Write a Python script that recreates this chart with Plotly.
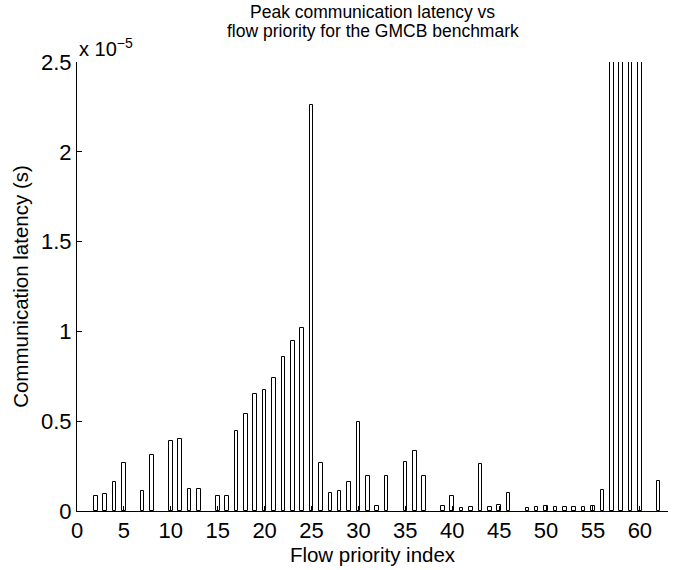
import plotly.graph_objects as go

# Flow priority indices and peak latency values (units of 1e-5 s; 0 = no bar)
priority_index = list(range(1, 63))
latency_e5 = [
    0.0, 0.085, 0.096, 0.16, 0.266, 0.0, 0.111, 0.31, 0.0, 0.39,      # 1-10
    0.40, 0.121, 0.124, 0.0, 0.085, 0.085, 0.444, 0.538, 0.651, 0.672, # 11-20
    0.742, 0.857, 0.948, 1.019, 2.26, 0.266, 0.098, 0.111, 0.161, 0.497, # 21-30
    0.197, 0.026, 0.197, 0.0, 0.273, 0.334, 0.197, 0.0, 0.026, 0.085,  # 31-40
    0.015, 0.02, 0.26, 0.02, 0.032, 0.098, 0.0, 0.015, 0.02, 0.03,     # 41-50
    0.02, 0.022, 0.02, 0.022, 0.03, 0.115, 4.0, 4.0, 4.0, 4.0,         # 51-60
    0.0, 0.165,                                                        # 61-62
]

y_tick_vals = [0, 0.5e-5, 1.0e-5, 1.5e-5, 2.0e-5, 2.5e-5]
y_tick_text = ["0", "0.5", "1", "1.5", "2", "2.5"]
x_tick_vals = [0, 5, 10, 15, 20, 25, 30, 35, 40, 45, 50, 55, 60]
title_lines = ["Peak communication latency vs", "flow priority for the GMCB benchmark"]

# only draw bars that have a value
bar_x = [i for i, v in zip(priority_index, latency_e5) if v > 0]
bar_y = [v * 1e-5 for v in latency_e5 if v > 0]

FONT = "Liberation Sans, Arial, Helvetica, sans-serif"

fig = go.Figure()
fig.add_trace(go.Bar(
    x=bar_x,
    y=bar_y,
    width=0.38,
    marker=dict(color="white", line=dict(color="black", width=1)),
    showlegend=False,
))

fig.update_layout(
    width=689,
    height=570,
    margin=dict(l=77, r=21, t=62, b=59),
    paper_bgcolor="white",
    plot_bgcolor="white",
    font=dict(family=FONT, color="black"),
    bargap=0,
)

for line, shift in zip(title_lines, [50, 31]):
    fig.add_annotation(
        text=line,
        xref="paper", yref="paper", x=0.5, y=1.0,
        xanchor="center", yanchor="middle", yshift=shift,
        showarrow=False,
        font=dict(size=17.5, family=FONT, color="black"),
    )

fig.update_xaxes(
    range=[0, 63],
    tickvals=x_tick_vals,
    ticks="inside", ticklen=5, tickcolor="black",
    showline=True, linecolor="black", linewidth=1, mirror=False,
    showgrid=False, zeroline=False,
    tickfont=dict(size=22, family=FONT, color="black"),
    title=dict(text="Flow priority index", font=dict(size=20.5, family=FONT, color="black"), standoff=0),
)
fig.update_yaxes(
    range=[0, 2.5e-5],
    tickvals=y_tick_vals,
    ticktext=y_tick_text,
    ticks="inside", ticklen=5, tickcolor="black",
    showline=True, linecolor="black", linewidth=1, mirror=False,
    showgrid=False, zeroline=False,
    tickfont=dict(size=22, family=FONT, color="black"),
    title=dict(text="Communication latency (s)", font=dict(size=20.5, family=FONT, color="black"), standoff=6),
)

fig.add_annotation(
    text="x 10<sup>\u22125</sup>",
    xref="paper", yref="paper", x=0.0, y=1.0,
    xanchor="left", yanchor="bottom",
    showarrow=False,
    font=dict(size=20, family=FONT, color="black"),
)

fig.write_html("out.html")
